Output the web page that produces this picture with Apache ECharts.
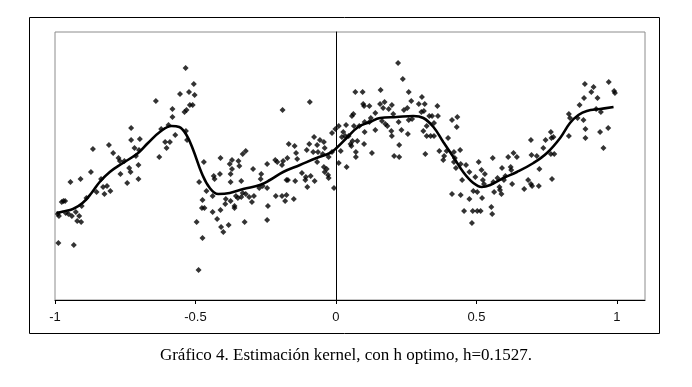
<!DOCTYPE html>
<html>
<head>
<meta charset="utf-8">
<script src="https://cdn.jsdelivr.net/npm/echarts@6/dist/echarts.min.js"></script>
<style>
html,body{margin:0;padding:0;background:#fff;}
#chart{width:692px;height:387px;}
</style>
</head>
<body>
<div id="chart"></div>
<script>
var xTicks = [-1, -0.5, 0, 0.5, 1];
var captionText = 'Gráfico 4. Estimación kernel, con h optimo, h=0.1527.';

var scatterPoints = [
[-0.641,1.99],[-0.582,1.91],[-0.582,1.83],[-0.596,1.75],[-0.622,1.71],[-0.729,1.72],[-0.729,1.60],[-0.698,1.61],
[-0.717,1.52],[-0.701,1.50],[-0.808,1.55],[-0.793,1.47],[-0.865,1.51],[-0.774,1.42],[-0.769,1.39],[-0.753,1.39],
[-0.736,1.32],[-0.731,1.28],[-0.767,1.26],[-0.743,1.17],[-0.703,1.35],[-0.703,1.21],[-0.712,1.44],[-0.608,1.58],
[-0.591,1.58],[-0.603,1.52],[-0.629,1.43],[-0.872,1.28],[-0.836,1.21],[-0.945,1.18],[-0.909,1.21],[-0.852,1.08],
[-0.829,1.13],[-0.815,1.14],[-0.824,1.06],[-0.803,1.09],[-0.976,0.98],[-0.964,0.99],[-0.990,0.86],[-0.986,0.84],
[-0.952,0.86],[-0.940,0.84],[-0.926,0.88],[-0.914,0.84],[-0.921,0.79],[-0.907,0.78],[-0.905,0.94],[-0.888,1.02],
[-0.988,0.57],[-0.933,0.55],[-0.970,0.99],[-0.962,0.87],
[-0.535,2.32],[-0.555,2.06],[-0.523,2.08],[-0.506,2.16],[-0.503,2.05],[-0.520,1.95],[-0.510,1.95],[-0.532,1.90],
[-0.539,1.88],[-0.572,1.65],[-0.534,1.69],[-0.530,1.60],[-0.470,1.38],[-0.487,1.18],[-0.461,1.09],[-0.439,1.04],
[-0.475,1.00],[-0.477,0.92],[-0.468,0.92],[-0.496,0.78],[-0.475,0.62],[-0.489,0.30],[-0.439,0.88],[-0.423,0.81],
[-0.411,0.90],[-0.409,0.73],[-0.401,0.68],[-0.382,0.75],[-0.394,0.96],[-0.392,1.01],[-0.375,0.99],[-0.361,0.94],
[-0.361,0.92],[-0.356,1.04],[-0.349,1.02],[-0.337,1.03],[-0.332,1.07],[-0.321,1.06],[-0.309,1.03],[-0.299,0.98],
[-0.292,1.04],[-0.325,0.78],[-0.435,1.24],[-0.432,1.21],[-0.413,1.26],[-0.411,1.42],[-0.378,1.36],[-0.370,1.40],
[-0.370,1.31],[-0.375,1.26],[-0.375,1.18],[-0.347,1.39],[-0.344,1.34],[-0.332,1.46],[-0.321,1.49],[-0.337,1.19],
[-0.295,1.31],[-0.266,1.26],[-0.268,1.21],[-0.273,1.12],[-0.261,1.14],[-0.245,1.12],[-0.245,1.36],[-0.242,0.94],
[-0.245,0.80],[-0.216,1.40],[-0.209,1.38],[-0.190,1.90],[-0.168,1.56],[-0.173,1.42],[-0.188,1.39],[-0.192,1.35],
[-0.176,1.20],[-0.171,1.20],[-0.214,1.04],[-0.192,1.04],[-0.176,1.05],[-0.181,0.99],[-0.150,1.01],
[-0.147,1.54],[-0.142,1.47],[-0.138,1.41],[-0.145,1.19],[-0.095,1.56],[-0.078,1.63],[-0.104,1.50],[-0.081,1.48],
[-0.067,1.55],[-0.064,1.48],[-0.057,1.60],[-0.043,1.58],[-0.047,1.46],[-0.067,1.38],[-0.040,1.52],[-0.121,1.27],
[-0.107,1.23],[-0.109,1.20],[-0.090,1.24],[-0.076,1.19],[-0.102,1.13],[-0.043,1.33],[-0.040,1.28],[-0.033,1.31],
[-0.028,1.25],[-0.026,1.22],[-0.007,1.12],[-0.026,1.43],[-0.014,1.48],[-0.014,1.67],[-0.002,1.71],[-0.093,1.98],
[0.010,1.74],[0.010,1.37],[0.017,1.49],[0.021,1.63],[0.026,1.68],[0.036,1.75],[0.038,1.33],[0.033,1.64],
[0.045,1.64],[0.052,1.56],[0.055,1.54],[0.059,1.59],[0.057,1.84],[0.062,1.86],[0.069,2.08],[0.064,1.74],
[0.071,1.48],[0.071,1.43],[0.076,1.59],[0.083,1.74],[0.095,2.08],[0.097,1.96],[0.100,1.94],[0.102,1.78],
[0.102,1.68],[0.100,1.56],[0.119,1.94],[0.119,1.78],[0.124,1.82],[0.128,1.47],[0.140,1.70],[0.140,1.87],
[0.159,2.10],[0.157,1.96],[0.168,1.92],[0.173,1.98],[0.164,1.79],[0.176,1.76],[0.183,1.74],[0.188,1.91],
[0.199,1.95],[0.197,1.69],[0.199,1.64],[0.204,1.86],[0.221,2.37],[0.238,2.21],[0.225,1.55],[0.207,1.44],
[0.225,1.43],[0.223,1.78],[0.233,1.70],[0.242,1.90],[0.254,1.92],[0.259,2.08],[0.259,1.80],[0.256,1.66],
[0.268,1.99],[0.271,1.81],
[0.295,1.96],[0.306,2.03],[0.316,1.96],[0.304,1.88],[0.313,1.89],[0.332,1.84],[0.342,1.84],[0.361,1.94],
[0.363,1.84],[0.323,1.74],[0.349,1.77],[0.311,1.69],[0.323,1.64],[0.337,1.64],[0.349,1.64],[0.318,1.46],
[0.368,1.49],[0.382,1.40],[0.385,1.44],[0.394,1.49],[0.399,1.62],[0.413,1.80],[0.430,1.73],[0.432,1.83],
[0.420,1.48],[0.423,1.42],[0.420,1.38],[0.442,1.50],[0.444,1.36],[0.463,1.35],[0.427,1.32],[0.413,1.06],
[0.444,1.05],[0.449,1.20],[0.475,1.28],[0.496,1.23],[0.508,1.38],[0.489,1.09],[0.475,1.01],[0.503,1.08],
[0.520,1.02],[0.518,1.30],[0.530,1.26],[0.523,1.20],[0.527,1.16],[0.456,0.89],[0.487,0.89],[0.503,0.89],
[0.515,0.89],[0.484,0.77],[0.553,0.93],[0.556,0.86],[0.558,1.42],[0.563,1.08],[0.560,1.18],[0.575,1.22],
[0.582,1.13],[0.584,1.10],[0.589,1.06],[0.591,1.32],[0.598,1.20],[0.603,1.24],[0.613,1.43],[0.622,1.33],
[0.624,1.30],[0.632,1.47],[0.627,1.16],[0.644,1.43],[0.670,1.11],[0.684,1.20],[0.694,1.16],[0.694,1.60],
[0.696,1.45],
[0.715,1.44],[0.724,1.31],[0.698,1.14],[0.722,1.14],[0.738,1.52],[0.746,1.60],[0.765,1.68],[0.767,1.62],
[0.774,1.63],[0.765,1.46],[0.777,1.46],[0.769,1.21],[0.829,1.86],[0.833,1.82],[0.829,1.64],[0.860,1.82],
[0.867,1.95],[0.883,2.02],[0.886,2.16],[0.881,1.80],[0.888,1.71],[0.888,1.62],[0.909,2.08],[0.917,2.13],
[0.931,2.02],[0.926,1.91],[0.943,1.88],[0.940,1.68],[0.952,1.52],[0.969,1.72],[0.971,2.18],[0.990,2.09],
[0.993,2.07]
];

var curvePoints = [
[-0.995,0.87],[-0.971,0.885],[-0.936,0.91],[-0.902,0.97],[-0.870,1.07],[-0.841,1.18],[-0.805,1.28],[-0.758,1.37],
[-0.704,1.47],[-0.669,1.57],[-0.627,1.68],[-0.585,1.74],[-0.558,1.73],[-0.532,1.65],[-0.508,1.50],[-0.478,1.27],
[-0.449,1.12],[-0.419,1.06],[-0.378,1.07],[-0.330,1.11],[-0.271,1.15],[-0.235,1.20],[-0.188,1.28],[-0.128,1.35],
[-0.069,1.42],[-0.021,1.47],[0.002,1.52],[0.038,1.62],[0.079,1.73],[0.121,1.78],[0.157,1.82],[0.216,1.83],
[0.275,1.84],[0.311,1.82],[0.347,1.73],[0.382,1.58],[0.418,1.43],[0.453,1.28],[0.489,1.17],[0.519,1.13],
[0.549,1.15],[0.596,1.22],[0.644,1.28],[0.703,1.37],[0.751,1.47],[0.798,1.62],[0.833,1.77],[0.863,1.85],
[0.893,1.89],[0.940,1.91],[0.988,1.93]
];

var chart = echarts.init(document.getElementById('chart'), null, {renderer: 'canvas'});
chart.setOption({
  backgroundColor: '#fff',
  animation: false,
  grid: {left: 55, top: 32, width: 590, height: 268, show: true, borderColor: '#8c8c8c', borderWidth: 1, backgroundColor: 'transparent'},
  xAxis: {
    type: 'value', min: -1, max: 1.1, interval: 0.5,
    splitLine: {show: false},
    axisLine: {show: true, onZero: false, lineStyle: {color: '#000', width: 1}},
    axisTick: {show: true, length: 4, inside: false, customValues: xTicks, lineStyle: {color: '#000'}},
    axisLabel: {customValues: xTicks, color: '#111', fontFamily: 'Liberation Sans, Arial, sans-serif', fontSize: 13, margin: 11,
      formatter: function (v) { return String(v); }}
  },
  yAxis: {
    type: 'value', min: 0, max: 2.68,
    splitLine: {show: false},
    axisLine: {show: true, onZero: true, lineStyle: {color: '#000', width: 1}},
    axisTick: {show: false},
    axisLabel: {show: false}
  },
  graphic: [
    {type: 'rect', shape: {x: 29.5, y: 17.5, width: 630, height: 316}, style: {fill: 'none', stroke: '#000', lineWidth: 1}, z: -1},
    {type: 'text', left: 'center', top: 347, style: {text: captionText, fill: '#000', font: '17px "Liberation Serif", "Times New Roman", serif'}}
  ],
  series: [
    {type: 'scatter', data: scatterPoints, symbol: 'diamond', symbolSize: 6, itemStyle: {color: '#000'}, z: 2},
    {type: 'line', data: curvePoints, smooth: 0.4, showSymbol: false, symbol: 'none', lineStyle: {color: '#000', width: 2.6}, z: 3}
  ]
});
</script>
</body>
</html>
